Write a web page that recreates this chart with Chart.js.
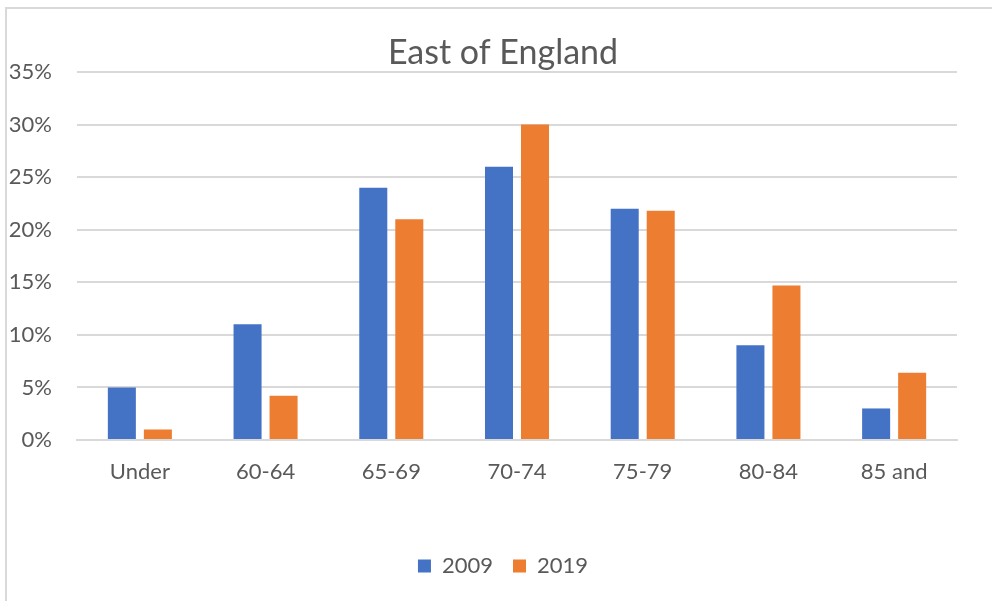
<!DOCTYPE html>
<html>
<head>
<meta charset="utf-8">
<script src="https://cdn.jsdelivr.net/npm/chart.js@4/dist/chart.umd.min.js"></script>
<style>
  html, body { margin: 0; padding: 0; background: #fff; overflow: hidden; }
  #frame { position: absolute; left: 5px; top: 7px; width: 1000px; height: 610px;
           border-left: 2px solid #d9d9d9; border-top: 2px solid #d9d9d9; }
  #wrap { position: absolute; left: 0; top: 0; width: 1006px; height: 601px; }
</style>
</head>
<body>
<div id="frame"></div>
<div id="wrap"><canvas id="chart" width="1006" height="601"></canvas></div>
<script>
var ageGroups = ["Under", "60-64", "65-69", "70-74", "75-79", "80-84", "85 and"];
var share2009 = [5, 11, 24, 26, 22, 9, 3];
var share2019 = [1, 4.2, 21, 30, 21.8, 14.7, 6.4];
var yTicks = [0, 5, 10, 15, 20, 25, 30, 35];

var grey = "#595959";
var font = "Lato, 'Open Sans', sans-serif";

var ctx = document.getElementById("chart").getContext("2d");
new Chart(ctx, {
    type: "bar",
    data: {
        labels: ageGroups,
        datasets: [
            { label: "2009", data: share2009, backgroundColor: "#4472c4" },
            { label: "2019", data: share2019, backgroundColor: "#ed7d31" },
        ],
    },
    options: {
        responsive: false,
        animation: false,
        categoryPercentage: 0.573,
        barPercentage: 0.778,
        layout: { padding: { top: 0, right: 0, bottom: 14, left: 0 } },
        plugins: {
            title: {
                display: true, text: "East of England", color: grey,
                font: { family: font, size: 34, weight: "normal", lineHeight: 1.0 },
                padding: { top: 36, bottom: 2 },
            },
            legend: {
                position: "bottom",
                labels: { color: grey, boxWidth: 13, boxHeight: 13, padding: 20,
                          font: { family: font, size: 22 } },
            },
            tooltip: { enabled: false },
        },
        scales: {
            x: {
                grid: { display: false },
                border: { color: "#d9d9d9", width: 2 },
                ticks: { color: grey, padding: 11, font: { family: font, size: 22 } },
                afterFit: function (s) { s.height = 95; },
            },
            y: {
                min: 0, max: 35,
                afterBuildTicks: function (s) { s.ticks = yTicks.map(function (v) { return { value: v }; }); },
                grid: { color: "#d9d9d9", lineWidth: 2, drawTicks: false },
                border: { display: false },
                ticks: { color: grey, padding: 25, font: { family: font, size: 22 },
                         callback: function (v) { return v + "%"; } },
                afterFit: function (s) { s.width = 77; },
            },
            // empty axis on the right, only reserves the gap after the plot
            yRight: {
                position: "right",
                grid: { display: false },
                border: { display: false },
                ticks: { display: false },
                afterFit: function (s) { s.width = 49; },
            },
        },
    },
});
</script>
</body>
</html>
